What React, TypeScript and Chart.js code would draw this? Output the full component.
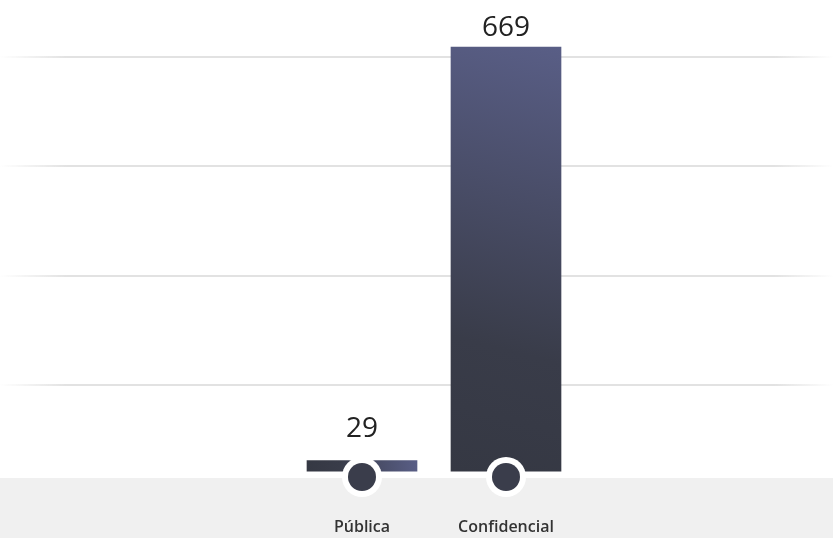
import React, { useEffect, useRef } from "react";
import { Chart, registerables } from "chart.js";

Chart.register(...registerables);

const CATEGORIES = ["Pública", "Confidencial"];
const VALUES = [29, 669];
const GRID_VALUES = [146, 315, 485, 654];
const Y_MIN = 12;
const Y_MAX = 742;

const FONT = '"Open Sans", "Noto Sans", sans-serif';

export default function App() {
  const ref = useRef<HTMLCanvasElement>(null);

  useEffect(() => {
    const canvas = ref.current;
    if (!canvas) return;

    const barFill = (ctx: any) => {
      const chart = ctx.chart;
      const { chartArea, scales } = chart;
      if (!chartArea || ctx.type !== "data") return "#45495f";
      const x = scales.x.getPixelForValue(ctx.dataIndex);
      const top = scales.y.getPixelForValue(ctx.raw);
      const base = scales.y.getPixelForValue(Y_MIN);
      const g = chart.ctx.createLinearGradient(x - 55, base, x + 55, top);
      g.addColorStop(0, "#353843");
      g.addColorStop(0.3, "#393c49");
      g.addColorStop(1, "#595e86");
      return g;
    };

    const decor = {
      id: "decor",
      beforeDraw(chart: any) {
        const { ctx, width, height, chartArea } = chart;
        const y = chart.scales.y;
        ctx.save();
        ctx.fillStyle = "#f0f0f0";
        ctx.fillRect(0, chartArea.bottom + 6.5, width, height);
        const g = ctx.createLinearGradient(0, 0, width, 0);
        g.addColorStop(0, "rgba(226,226,226,0)");
        g.addColorStop(0.08, "rgba(226,226,226,1)");
        g.addColorStop(0.93, "rgba(226,226,226,1)");
        g.addColorStop(1, "rgba(226,226,226,0)");
        ctx.strokeStyle = g;
        ctx.lineWidth = 2;
        GRID_VALUES.forEach((v) => {
          const py = Math.round(y.getPixelForValue(v));
          ctx.beginPath();
          ctx.moveTo(0, py);
          ctx.lineTo(width, py);
          ctx.stroke();
        });
        ctx.restore();
      },
      afterDatasetsDraw(chart: any) {
        const { ctx, chartArea } = chart;
        const x = chart.scales.x;
        const y = chart.scales.y;
        ctx.save();
        VALUES.forEach((v, i) => {
          const cx = x.getPixelForValue(i);
          const cy = chartArea.bottom + 5.5;
          ctx.beginPath();
          ctx.arc(cx, cy, 20, 0, Math.PI * 2);
          ctx.fillStyle = "#ffffff";
          ctx.fill();
          ctx.beginPath();
          ctx.arc(cx, cy, 14, 0, Math.PI * 2);
          ctx.fillStyle = "#3a3d4b";
          ctx.fill();

          const top = y.getPixelForValue(v);
          ctx.font = `400 28px ${FONT}`;
          ctx.fillStyle = "#222222";
          ctx.textAlign = "center";
          ctx.textBaseline = "middle";
          ctx.fillText(String(v), cx, Math.max(top - 31.5, 28.5));
        });
        ctx.restore();
      },
    };

    const chart = new Chart(canvas, {
      type: "bar",
      data: {
        labels: CATEGORIES,
        datasets: [
          {
            data: VALUES,
            backgroundColor: barFill,
            borderWidth: 0,
            barThickness: 110,
          },
        ],
      },
      options: {
        animation: false,
        responsive: true,
        maintainAspectRatio: false,
        layout: { padding: { left: 290, right: 255, top: 0, bottom: 0 } },
        plugins: {
          legend: { display: false },
          tooltip: { enabled: false },
        },
        scales: {
          x: {
            grid: { display: false, drawTicks: false },
            border: { display: false },
            ticks: {
              color: "#333333",
              font: { family: FONT, size: 16, weight: "600" },
              padding: 46,
            },
            afterFit(scale: any) {
              scale.height = 66.5;
            },
          },
          y: {
            display: false,
            min: Y_MIN,
            max: Y_MAX,
          },
        },
      },
      plugins: [decor],
    });

    return () => chart.destroy();
  }, []);

  return (
    <div style={{ position: "fixed", left: 0, top: 0, width: 833, height: 538, background: "#ffffff" }}>
      <canvas ref={ref} />
    </div>
  );
}
